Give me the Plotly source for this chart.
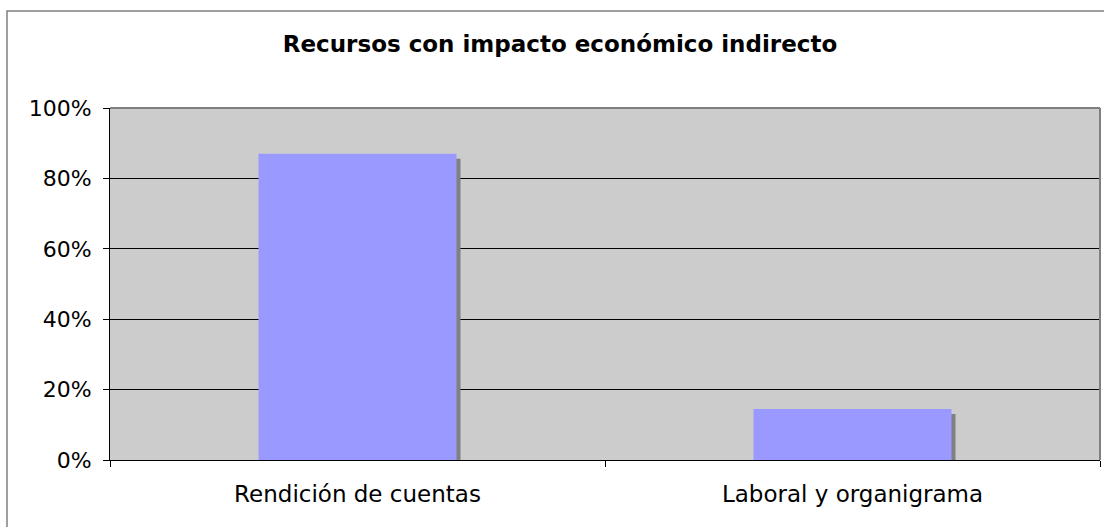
import plotly.graph_objects as go

categories = ["Rendición de cuentas", "Laboral y organigrama"]
values = [0.87, 0.145]
tick_vals = [0, 0.2, 0.4, 0.6, 0.8, 1.0]
tick_text = ["0%", "20%", "40%", "60%", "80%", "100%"]
title_text = "Recursos con impacto económico indirecto"

BAR_W = 0.4
SH_DX = 4 / 495
SH_DY = 5 / 352

fig = go.Figure()
# shadow
fig.add_trace(go.Bar(
    x=categories, y=[v - SH_DY for v in values],
    width=BAR_W, offset=-BAR_W / 2 + SH_DX,
    marker=dict(color="#808080", line=dict(width=0)),
    hoverinfo="skip", showlegend=False,
))
fig.add_trace(go.Bar(
    x=categories, y=values,
    width=BAR_W, offset=-BAR_W / 2,
    marker=dict(color="#9999FF", line=dict(width=0)),
    showlegend=False,
))

font_family = "Verdana, DejaVu Sans, sans-serif"
W, H = 1104, 527

fig.update_layout(
    width=W, height=H,
    barmode="overlay",
    margin=dict(l=110, r=4, t=108, b=67),
    paper_bgcolor="white",
    plot_bgcolor="#CCCCCC",
    font=dict(family=font_family, size=22, color="black"),
    title=dict(text="<b>" + title_text + "</b>", x=560 / W, xanchor="center",
               y=1 - 44 / H, yanchor="middle",
               font=dict(family=font_family, size=23, color="black")),
    xaxis=dict(
        showgrid=False, showline=True, linecolor="black", linewidth=1,
        ticks="outside", tickson="boundaries", ticklen=6, tickcolor="black",
        tickfont=dict(size=23), fixedrange=True, ticklabelstandoff=13,
    ),
    yaxis=dict(
        range=[0, 1], tickvals=tick_vals, ticktext=tick_text,
        showgrid=True, gridcolor="black", gridwidth=1,
        showline=True, linecolor="black", linewidth=1,
        ticks="outside", ticklen=6, tickcolor="black",
        tickfont=dict(size=22), zeroline=False, fixedrange=True,
        ticklabelstandoff=7,
    ),
    shapes=[
        dict(type="line", xref="paper", yref="paper", x0=0, x1=1, y0=1, y1=1,
             line=dict(color="#808080", width=2)),
        dict(type="line", xref="paper", yref="paper", x0=1, x1=1, y0=0, y1=1,
             line=dict(color="#808080", width=2)),
        dict(type="rect", xref="paper", yref="paper",
             x0=(7 - 110) / 990, x1=1.02, y0=-0.3, y1=(460 - 11) / 352,
             line=dict(color="#808080", width=1.5), layer="below"),
    ],
)

fig.write_html("out.html", config={"displayModeBar": False},
               post_script="document.body.style.margin='0';")
